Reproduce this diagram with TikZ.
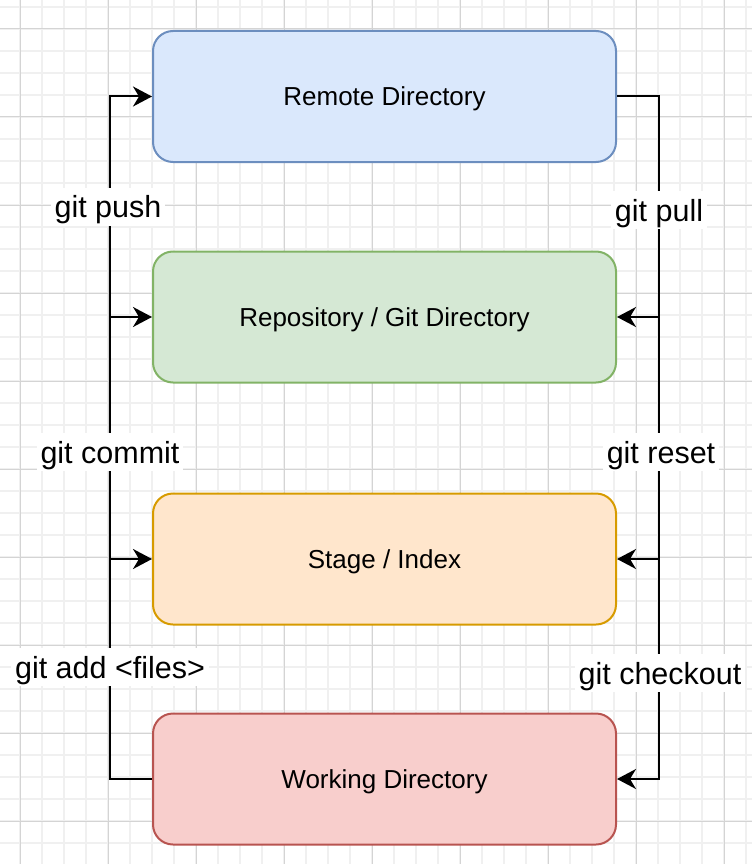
\documentclass[tikz,border=0pt]{standalone}
\usepackage{fontspec}
\setmainfont{Liberation Sans}
\usetikzlibrary{arrows.meta,positioning}
\definecolor{remotefill}{HTML}{DAE8FC}
\definecolor{remoteline}{HTML}{6C8EBF}
\definecolor{repofill}{HTML}{D5E8D4}
\definecolor{repoline}{HTML}{82B366}
\definecolor{stagefill}{HTML}{FFE6CC}
\definecolor{stageline}{HTML}{D79B00}
\definecolor{workfill}{HTML}{F8CECC}
\definecolor{workline}{HTML}{B85450}
\tikzset{>={Stealth[length=19pt,width=20pt,inset=6pt]},
  gridminor/.style={draw=black!6,line width=2pt},
  gridmajor/.style={draw=black!17,line width=1pt},
  area/.style={draw,line width=2pt,rounded corners=20pt,
    minimum width=463pt,minimum height=131pt,text height=20pt,text depth=2pt,
    font=\fontsize{26}{30}\selectfont},
  cmd/.style={fill=white,inner xsep=4pt,inner ysep=5pt,
    text height=25pt,text depth=3pt,font=\fontsize{30.5}{34}\selectfont},
  link/.style={line width=2pt}}

\begin{document}
\begin{tikzpicture}[x=1pt,y=-1pt]
  \useasboundingbox [fill=white] (0,0) rectangle (752,864);
  \foreach \k in {-1,...,33}
    \draw[gridminor] (20+22*\k,0) -- (20+22*\k,864);
  \foreach \k in {-1,...,38}
    \draw[gridminor] (0,29+22*\k) -- (752,29+22*\k);
  \foreach \k in {0,...,8}
    \draw[gridmajor] (20+88*\k,0) -- (20+88*\k,864);
  \foreach \k in {0,...,9}
    \draw[gridmajor] (0,29+88*\k) -- (752,29+88*\k);

  \node[area,fill=remotefill,draw=remoteline] (remote) at (384.5,96.5) {Remote Directory};
  \node[area,fill=repofill,draw=repoline]     (repo)   at (384.5,317)  {Repository / Git Directory};
  \node[area,fill=stagefill,draw=stageline]   (stage)  at (384.5,559)  {Stage / Index};
  \node[area,fill=workfill,draw=workline]     (work)   at (384.5,779)  {Working Directory};

  \coordinate (pushtop)    at (110,96.5);
  \coordinate (addfoot)    at (110,779);
  \coordinate (pulltop)    at (659,96.5);
  \coordinate (checkfoot)  at (659,779);

  \draw[link,->] (work.west) -- (addfoot) -- (pushtop) -- (remote.west);
  \draw[link,->] (repo.west -| pushtop) -- (repo.west);
  \draw[link,->] (stage.west -| pushtop) -- (stage.west);
  \draw[link,->] (remote.east) -- (pulltop) -- (checkfoot) -- (work.east);
  \draw[link,->] (repo.east -| pulltop) -- (repo.east);
  \draw[link,->] (stage.east -| pulltop) -- (stage.east);

  \node[cmd] (push)     at (108,206.5) {git push};
  \node[cmd] (commit)   at (110,452)   {git commit};
  \node[cmd] (add)      at (110,667)   {git add <files>};
  \node[cmd] (pull)     at (659,210)   {git pull};
  \node[cmd] (reset)    at (661,452)   {git reset};
  \node[cmd] (checkout) at (660,673)   {git checkout};
\end{tikzpicture}
\end{document}
